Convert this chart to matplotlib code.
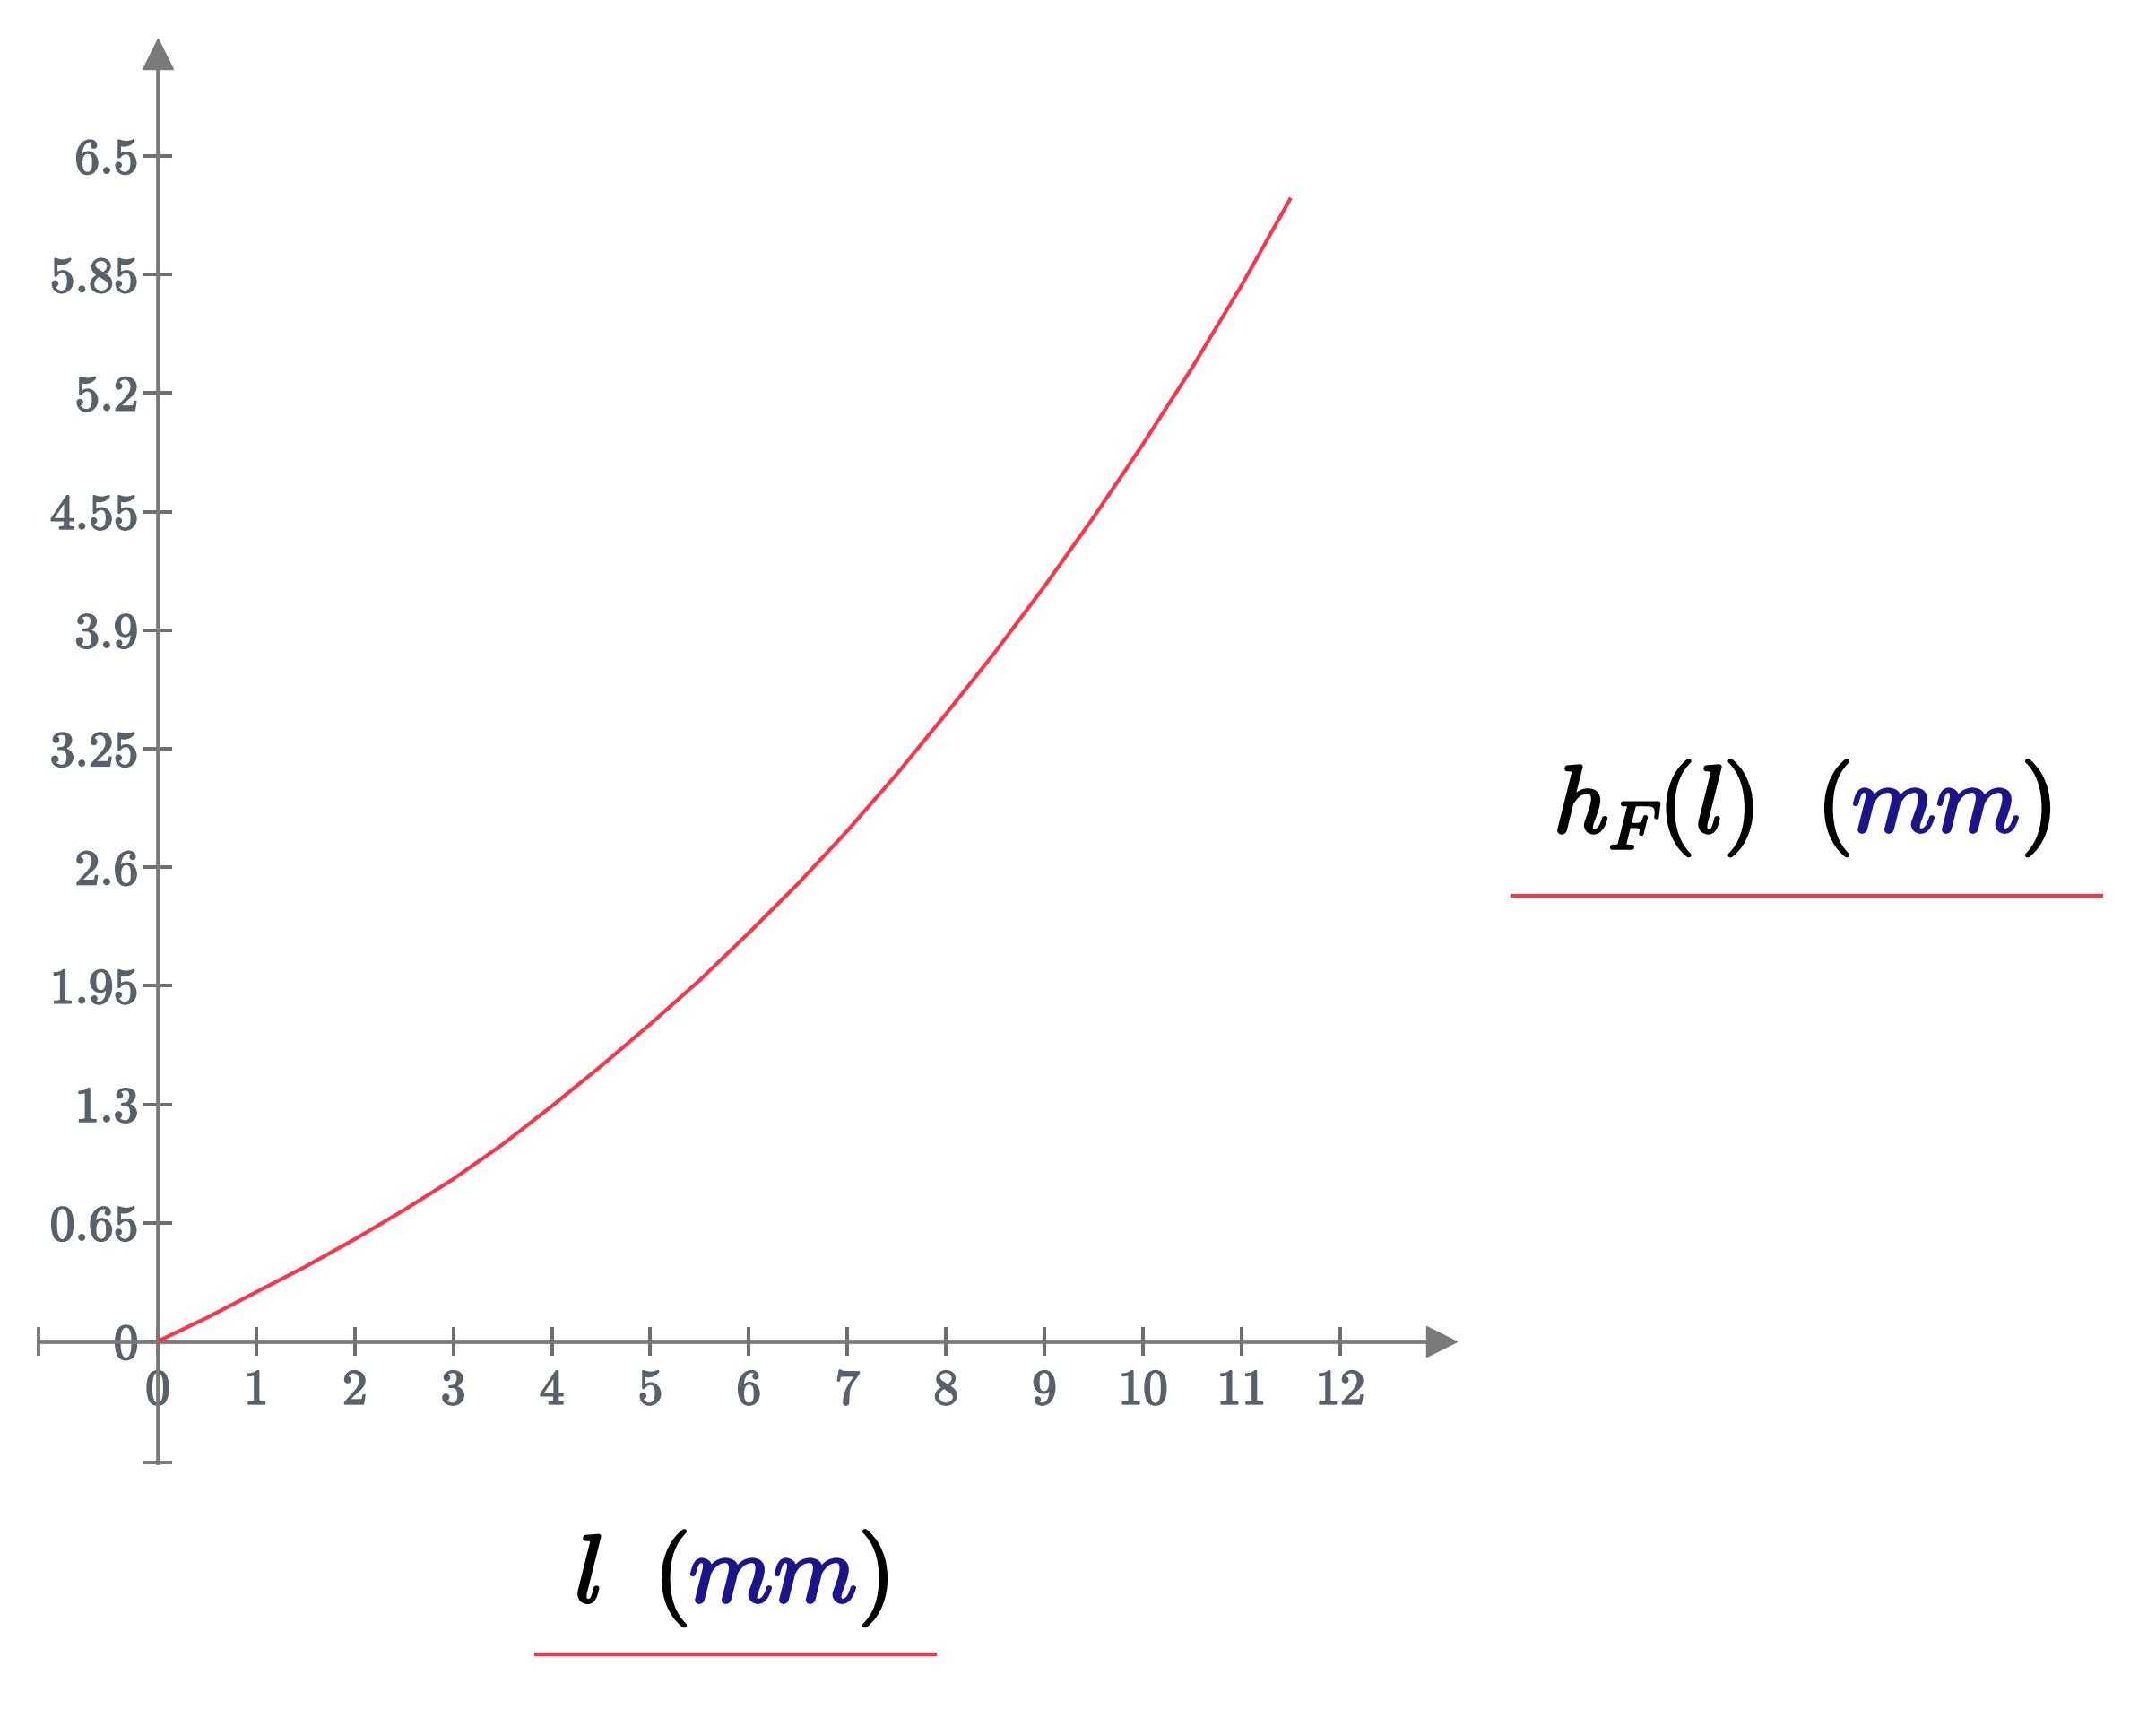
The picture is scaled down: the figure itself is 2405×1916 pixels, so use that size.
import matplotlib
matplotlib.use("Agg")
import matplotlib.pyplot as plt
import matplotlib.patheffects as pe
from matplotlib.lines import Line2D

# ---- data ----
l_vals = [0, 0.5, 1, 1.5, 2, 2.5, 3, 3.5, 4, 4.5, 5, 5.5, 6, 6.5, 7, 7.5, 8, 8.5,
          9, 9.5, 10, 10.5, 11, 11.5]
h_vals = [0, 0.13, 0.27, 0.41, 0.56, 0.72, 0.89, 1.08, 1.29, 1.51, 1.74, 1.98, 2.24,
          2.51, 2.80, 3.11, 3.44, 3.78, 4.14, 4.52, 4.92, 5.34, 5.79, 6.27]
x_ticks = [0, 1, 2, 3, 4, 5, 6, 7, 8, 9, 10, 11, 12]
y_ticks = [0, 0.65, 1.3, 1.95, 2.6, 3.25, 3.9, 4.55, 5.2, 5.85, 6.5]
y_tick_labels = ["0", "0.65", "1.3", "1.95", "2.6", "3.25", "3.9", "4.55", "5.2", "5.85", "6.5"]

W, H = 2405, 1916
DPI = 100
plt.rcParams['mathtext.fontset'] = 'cm'

fig = plt.figure(figsize=(W / DPI, H / DPI), dpi=DPI)
fig.patch.set_facecolor('white')

ax = fig.add_axes([43 / W, (H - 1631) / H, (1608 - 43) / W, (1631 - 60) / H])
ax.set_xlim(-1.21, 13.03)
ax.set_ylim(-0.664, 7.06)

axis_col = '#7a7a7a'
tick_col = '#6e6e6e'
label_col = '#58606a'
red = '#ff3347'

for s in ['top', 'right']:
    ax.spines[s].set_visible(False)
ax.spines['left'].set_position(('data', 0))
ax.spines['bottom'].set_position(('data', 0))
for s in ['left', 'bottom']:
    ax.spines[s].set_color(axis_col)
    ax.spines[s].set_linewidth(3.4)

ax.set_xticks(x_ticks)
ax.set_xticklabels([str(v) for v in x_ticks])
ax.set_yticks(y_ticks)
ax.set_yticklabels(y_tick_labels)
ax.tick_params(axis='both', direction='inout', length=23, width=2.9, color=tick_col,
               labelcolor=label_col, labelsize=40)
ax.tick_params(axis='x', pad=11)
ax.tick_params(axis='y', pad=4)
for lab in ax.get_xticklabels() + ax.get_yticklabels():
    lab.set_fontfamily('cmr10')
    lab.set_path_effects([pe.withStroke(linewidth=1.3, foreground=label_col)])

# arrows and end caps
ax.plot(1, 0, '>', color=axis_col, ms=24, transform=ax.get_yaxis_transform(), clip_on=False)
ax.plot(0, 1, '^', color=axis_col, ms=24, transform=ax.get_xaxis_transform(), clip_on=False)
ax.plot(0, 0, '|', color=axis_col, ms=23, mew=2.9, transform=ax.get_yaxis_transform(), clip_on=False)
ax.plot(0, 0, '_', color=axis_col, ms=23, mew=2.9, transform=ax.get_xaxis_transform(), clip_on=False)

# curve
ax.plot(l_vals, h_vals, color=red, lw=3.0, solid_capstyle='butt', solid_joinstyle='round', zorder=5)

# ---- labels built from coloured pieces ----
renderer = fig.canvas.get_renderer()
FS = 77


def place(pieces, x0, y0):
    x = x0
    for text, col, gap in pieces:
        t = fig.text(x / W, 1 - y0 / H, text, color=col, fontsize=FS, ha='left', va='baseline',
                     path_effects=[pe.withStroke(linewidth=2.2, foreground=col)])
        bb = t.get_window_extent(renderer)
        x = bb.x1 + gap


navy = '#1c148a'
place([(r'$h_F(l)$', 'black', 70), (r'$($', 'black', 2), (r'$mm$', navy, 2), (r'$)$', 'black', 0)],
      1733, 928)
place([(r'$l$', 'black', 58), (r'$($', 'black', 2), (r'$mm$', navy, 2), (r'$)$', 'black', 0)],
      641, 1787)

fig.add_artist(Line2D([1687 / W, 2344 / W], [1 - 999 / H, 1 - 999 / H], color=red, lw=3.0))
fig.add_artist(Line2D([598 / W, 1043 / W], [1 - 1845 / H, 1 - 1845 / H], color=red, lw=3.0))

fig.savefig('out.png', dpi=DPI, facecolor='white')
